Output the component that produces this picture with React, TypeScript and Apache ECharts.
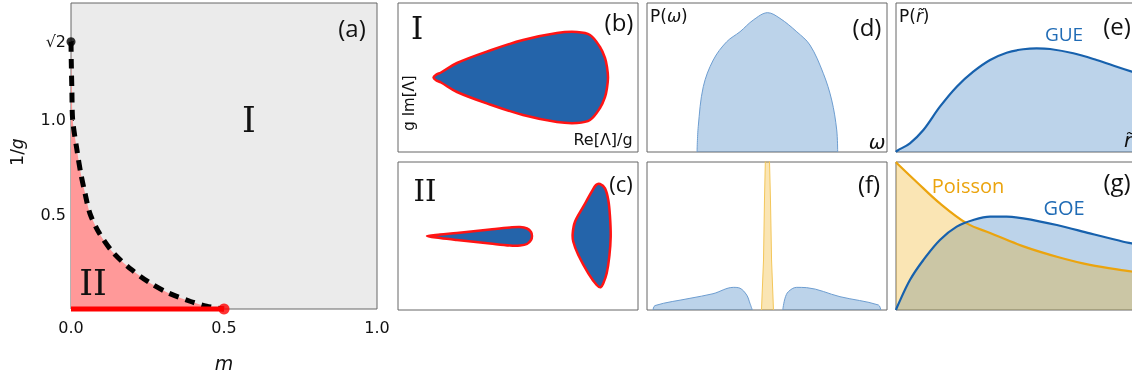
import React, { useEffect, useRef } from 'react';
import * as echarts from 'echarts';

const SQRT2 = Math.SQRT2;

// Panel (a): phase boundary (m, 1/g)
const PHASE_M = [0, 0.001, 0.003, 0.0055, 0.0196, 0.032, 0.046, 0.062, 0.093, 0.139, 0.198, 0.258, 0.318, 0.389, 0.443, 0.5];
const PHASE_INVG = [1.414, 1.3, 1.15, 1.0, 0.84, 0.717, 0.611, 0.505, 0.4, 0.296, 0.208, 0.138, 0.085, 0.041, 0.015, 0];
const RED_M = [0, 0.5];
const RED_INVG = [0, 0];
const X_TICKS_A = [0, 0.5, 1.0];
const Y_TICKS_A = [0.5, 1.0, SQRT2];

// Panel (b): spectrum outline, phase I (Re, Im)
const B_RE = [3.55, 3.8, 4.3, 5.9, 9.2, 12.5, 15.9, 17.9, 19.2, 20.2, 20.7, 20.9, 21.0, 20.9, 20.7, 20.2, 19.2, 17.9, 15.9, 12.5, 9.2, 5.9, 4.3, 3.8];
const B_IM = [0, 0.28, 0.5, 1.45, 2.7, 3.75, 4.45, 4.55, 4.25, 3.05, 1.95, 1.05, 0, -1.05, -1.95, -3.05, -4.25, -4.55, -4.45, -3.75, -2.7, -1.45, -0.5, -0.28];

// Panel (c): two spectral islands, phase II
const C1_RE = [2.9, 4.2, 5.9, 9.2, 11.2, 12.2, 12.9, 13.3, 13.4, 13.3, 12.9, 12.2, 11.2, 9.2, 5.9, 4.2];
const C1_IM = [0, 0.15, 0.3, 0.65, 0.85, 0.9, 0.75, 0.4, 0, -0.4, -0.8, -0.95, -0.95, -0.75, -0.4, -0.2];
const C2_RE = [20.2, 20.7, 21.03, 21.2, 21.27, 21.13, 20.87, 20.53, 20.27, 19.87, 19.03, 18.03, 17.53, 17.47, 17.7, 18.53, 19.37, 19.8];
const C2_IM = [5.2, 4.77, 3.6, 1.93, -0.07, -2.07, -3.73, -4.73, -5.13, -4.9, -3.73, -1.9, -0.57, 0.27, 1.43, 2.93, 4.43, 5.1];

// Panel (d): P(omega), phase I
const D_OMEGA = [-0.583, -0.573, -0.531, -0.448, -0.336, -0.225, -0.114, 0.006, 0.108, 0.248, 0.358, 0.469, 0.539, 0.581, 0.589];
const D_P = [0, 0.17, 0.438, 0.617, 0.74, 0.807, 0.886, 0.935, 0.897, 0.807, 0.718, 0.528, 0.349, 0.148, 0];

// Panel (f): P(omega), phase II
const F_LEFT_OMEGA = [-0.95, -0.933, -0.642, -0.45, -0.28, -0.225, -0.169, -0.142, -0.122];
const F_LEFT_P = [0, 0.03, 0.079, 0.11, 0.153, 0.147, 0.101, 0.045, 0];
const F_RIGHT_OMEGA = [0.131, 0.15, 0.178, 0.247, 0.331, 0.608, 0.928, 0.948];
const F_RIGHT_P = [0, 0.079, 0.124, 0.153, 0.151, 0.09, 0.034, 0];
const F_SPIKE_OMEGA = [-0.046, -0.029, -0.021, -0.014, 0.002, 0.021, 0.029, 0.038, 0.054];
const F_SPIKE_P = [0, 0.338, 0.743, 1.0, 1.6, 1.0, 0.743, 0.338, 0];

// Panel (e): P(r~) GUE
const E_R = [0, 0.005, 0.058, 0.114, 0.183, 0.253, 0.322, 0.392, 0.461, 0.53, 0.586, 0.642, 0.739, 0.836, 0.92, 0.983, 1.0];
const E_P = [0, 0.017, 0.117, 0.295, 0.608, 0.877, 1.078, 1.235, 1.333, 1.379, 1.392, 1.383, 1.325, 1.235, 1.145, 1.078, 1.06];

// Panel (g): P(r~) GOE and Poisson
const G_GOE_R = [0, 0.005, 0.058, 0.114, 0.183, 0.253, 0.322, 0.392, 0.461, 0.53, 0.67, 0.808, 0.947, 0.982, 1.0];
const G_GOE_P = [0, 0.045, 0.405, 0.676, 0.946, 1.126, 1.216, 1.261, 1.261, 1.239, 1.149, 1.036, 0.923, 0.901, 0.89];
const G_POI_R = [0, 0.005, 0.086, 0.183, 0.295, 0.392, 0.531, 0.67, 0.808, 0.982, 1.0];
const G_POI_P = [2.0, 1.98, 1.73, 1.44, 1.17, 1.04, 0.86, 0.72, 0.61, 0.52, 0.51];

const pairs = (xs: number[], ys: number[]) => xs.map((x, i) => [x, ys[i]]);

const BLUE_LINE = '#1761ad';
const BLUE_THIN = '#6d9dd0';
const BLUE_FILL = 'rgba(32,108,185,0.3)';
const YEL_FILL = 'rgba(238,168,8,0.3)';
const ORANGE = '#eba40e';
const SANS = 'DejaVu Sans';
const LAB = 'Open Sans';
const SERIF = 'DejaVu Serif';

export default function App() {
  const ref = useRef<HTMLDivElement>(null);
  useEffect(() => {
    const chart = echarts.init(ref.current!, null, { renderer: 'svg' });
    const frame = {
      show: true,
      borderColor: '#666',
      borderWidth: 1,
      backgroundColor: '#fff',
      containLabel: false,
      outerBoundsMode: 'none',
    };
    const hx = (g: number, min: number, max: number) => ({ type: 'value', gridIndex: g, min, max, show: false });
    const hy = hx;

    const polySeries = (xi: number, re: number[], im: number[]) => ({
      type: 'custom',
      coordinateSystem: 'cartesian2d',
      xAxisIndex: xi,
      yAxisIndex: xi,
      data: [[0, 0]],
      silent: true,
      renderItem: (_p: any, api: any) => ({
        type: 'polygon',
        shape: { points: pairs(re, im).map((p) => api.coord(p)), smooth: 0.35 },
        style: { fill: '#2464aa', stroke: '#ff1414', lineWidth: 2.5 },
      }),
    });

    const areaLine = (xi: number, data: number[][], line: string, width: number, fill: string | null, smooth: number | boolean = 0.35, z = 2) => ({
      type: 'line',
      xAxisIndex: xi,
      yAxisIndex: xi,
      data,
      smooth,
      showSymbol: false,
      silent: true,
      z,
      itemStyle: { color: line },
      lineStyle: { color: line, width },
      areaStyle: fill ? { color: fill, opacity: 1 } : undefined,
    });

    const text = (t: string, x: number, y: number, size: number, opts: any = {}) => ({
      type: 'text',
      x,
      y,
      z: 100,
      rotation: opts.rotation || 0,
      style: {
        text: t,
        fontSize: size,
        fontFamily: opts.family || LAB,
        fontStyle: opts.italic ? 'italic' : 'normal',
        fill: opts.color || '#111',
        align: opts.align || 'center',
        verticalAlign: 'middle',
        rich: opts.rich,
      },
    });

    const richPlain = { fontFamily: SANS, fontSize: 17, fill: '#111' };
    const richItal = { fontFamily: SANS, fontStyle: 'italic', fontSize: 17, fill: '#111' };

    const option: any = {
      animation: false,
      grid: [
        { left: 71, top: 3, width: 306, height: 306, show: true, backgroundColor: '#ebebeb', borderColor: '#666', borderWidth: 1, containLabel: false, outerBoundsMode: 'none' },
        { left: 398, top: 3, width: 240, height: 149, ...frame },
        { left: 398, top: 162, width: 240, height: 148, ...frame },
        { left: 647, top: 3, width: 240, height: 149, ...frame },
        { left: 647, top: 162, width: 240, height: 148, ...frame },
        { left: 896, top: 3, width: 240, height: 149, ...frame },
        { left: 896, top: 162, width: 240, height: 148, ...frame },
      ],
      xAxis: [
        {
          type: 'value', gridIndex: 0, min: 0, max: 1, interval: 0.5,
          axisLine: { show: false }, axisTick: { show: false }, splitLine: { show: false },
          axisLabel: { customValues: X_TICKS_A, formatter: (v: number) => v.toFixed(1), fontFamily: SANS, fontSize: 16, color: '#111', margin: 10 },
        },
        hx(1, 0, 24), hx(2, 0, 24), hx(3, -1, 1), hx(4, -1, 1), hx(5, 0, 1), hx(6, 0, 1),
      ],
      yAxis: [
        {
          type: 'value', gridIndex: 0, min: 0, max: 1.619,
          axisLine: { show: false }, splitLine: { show: false },
          axisTick: { show: true, inside: true, length: 3, customValues: Y_TICKS_A, lineStyle: { color: '#333' } },
          axisLabel: {
            customValues: Y_TICKS_A,
            formatter: (v: number) => (Math.abs(v - SQRT2) < 1e-6 ? '√2' : v.toFixed(1)),
            fontFamily: SANS, fontSize: 16, color: '#111', margin: 5,
          },
        },
        hy(1, -7.45, 7.45), hy(2, -7.4, 7.4), hy(3, 0, 1), hy(4, 0, 1), hy(5, 0, 2), hy(6, 0, 2),
      ],
      series: [
        {
          type: 'line', xAxisIndex: 0, yAxisIndex: 0, data: pairs(PHASE_M, PHASE_INVG), smooth: 0.3,
          showSymbol: false, silent: true, z: 1, lineStyle: { width: 0, color: '#ff9999' }, itemStyle: { color: '#ff9999' },
          areaStyle: { color: '#ff9999', opacity: 1 },
        },
        {
          type: 'line', xAxisIndex: 0, yAxisIndex: 0, data: pairs(PHASE_M, PHASE_INVG), smooth: 0.3,
          showSymbol: false, silent: true, z: 3, clip: false, itemStyle: { color: '#000' },
          lineStyle: { width: 5, color: '#000', type: [10, 7], cap: 'butt' },
        },
        {
          type: 'line', xAxisIndex: 0, yAxisIndex: 0, data: pairs(RED_M, RED_INVG),
          showSymbol: false, silent: true, z: 4, clip: false, itemStyle: { color: '#ff0000' },
          lineStyle: { width: 5, color: '#ff0000' },
        },
        {
          type: 'scatter', xAxisIndex: 0, yAxisIndex: 0, data: [[RED_M[1], RED_INVG[1]]], symbolSize: 11, clip: false, z: 5,
          silent: true, itemStyle: { color: '#ff0000' },
        },
        {
          type: 'scatter', xAxisIndex: 0, yAxisIndex: 0, data: [[PHASE_M[0], PHASE_INVG[0]]], symbolSize: 9, clip: false, z: 5,
          silent: true, itemStyle: { color: '#000' },
        },
        polySeries(1, B_RE, B_IM),
        polySeries(2, C1_RE, C1_IM),
        polySeries(2, C2_RE, C2_IM),
        areaLine(3, pairs(D_OMEGA, D_P), BLUE_THIN, 1, BLUE_FILL),
        areaLine(4, pairs(F_LEFT_OMEGA, F_LEFT_P), BLUE_THIN, 1, BLUE_FILL),
        areaLine(4, pairs(F_RIGHT_OMEGA, F_RIGHT_P), BLUE_THIN, 1, BLUE_FILL),
        areaLine(4, pairs(F_SPIKE_OMEGA, F_SPIKE_P), '#f3c659', 1, YEL_FILL, false),
        areaLine(5, pairs(E_R, E_P), BLUE_LINE, 2.2, BLUE_FILL),
        // (g) fills first, then curves on top
        areaLine(6, pairs(G_GOE_R, G_GOE_P), 'rgba(0,0,0,0)', 0, BLUE_FILL, 0.35, 2),
        areaLine(6, pairs(G_POI_R, G_POI_P), 'rgba(0,0,0,0)', 0, YEL_FILL, 0.35, 2),
        areaLine(6, pairs(G_POI_R, G_POI_P), ORANGE, 2.2, null, 0.35, 3),
        areaLine(6, pairs(G_GOE_R, G_GOE_P), BLUE_LINE, 2.2, null, 0.35, 4),
      ],
      graphic: [
        text('(a)', 352, 27, 24),
        text('I', 249, 120, 35, { family: SERIF }),
        text('II', 93, 283, 35, { family: SERIF }),
        text('{u|1/}{i|g}', 17, 152, 17, {
          rotation: Math.PI / 2, family: SANS,
          rich: { u: richPlain, i: richItal },
        }),
        text('m', 224, 363, 19, { italic: true, family: SANS }),
        text('I', 417, 28, 31, { family: SERIF }),
        text('(b)', 619, 21, 24),
        text('g Im[Λ]', 409, 103, 15, { rotation: Math.PI / 2, family: SANS }),
        text('Re[Λ]/g', 603, 139, 16, { family: SANS }),
        text('II', 425, 191, 29, { family: SERIF }),
        text('(c)', 621, 183, 22),
        text('{u|P(}{i|ω}{u|)}', 650, 16, 17, { align: 'left', family: SANS, rich: { u: richPlain, i: richItal } }),
        text('(d)', 867, 26, 24),
        text('ω', 877, 142, 20, { italic: true, family: SANS }),
        text('(f)', 869, 183, 24),
        text('{u|P(}{i|r\u0303}{u|)}', 899, 16, 17, { align: 'left', family: SANS, rich: { u: richPlain, i: richItal } }),
        text('GUE', 1064, 34, 19, { color: '#1f6bb5' }),
        text('(e)', 1117, 25, 24),
        text('r\u0303', 1128, 140, 20, { italic: true, family: SANS }),
        text('Poisson', 968, 185, 20, { color: ORANGE }),
        text('GOE', 1064, 207, 20, { color: '#1f6bb5' }),
        text('(g)', 1117, 181, 24),
      ],
    };
    chart.setOption(option);
    return () => chart.dispose();
  }, []);
  return <div ref={ref} style={{ position: 'fixed', left: 0, top: 0, width: 1132, height: 378 }} />;
}
